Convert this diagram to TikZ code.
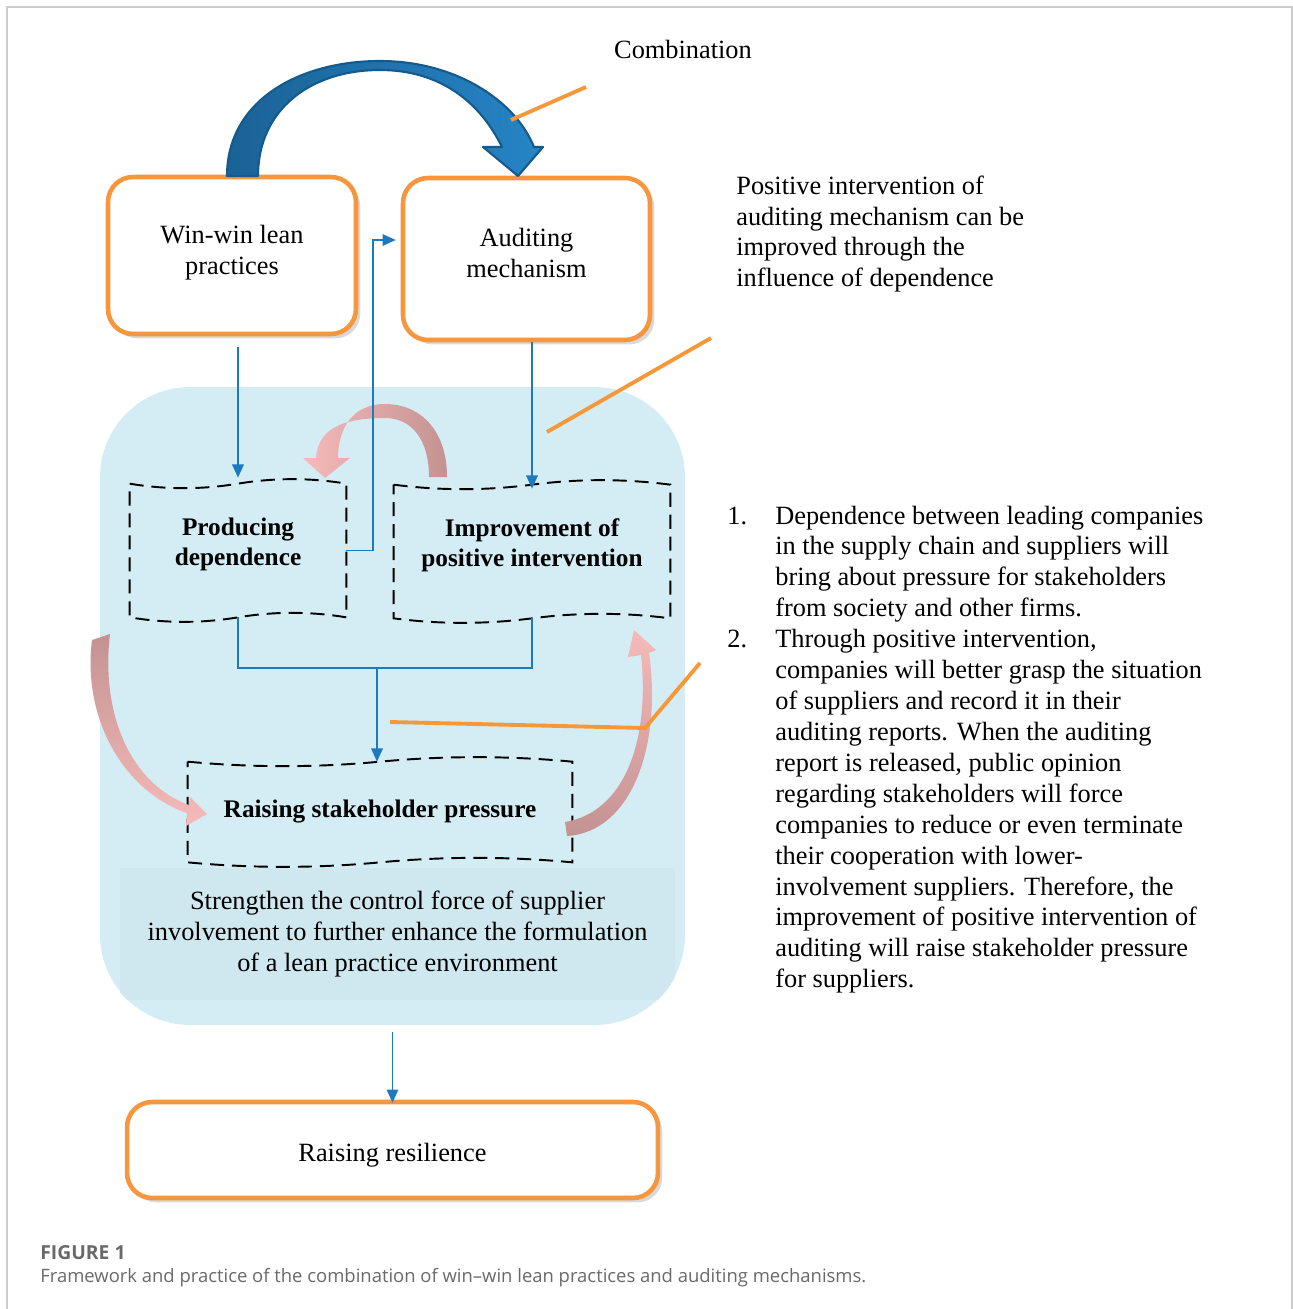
\documentclass[tikz,border=0pt]{standalone}
\usepackage{fontspec}
\setmainfont{Liberation Serif}
\newfontfamily\capfont{Open Sans}
\usepackage{tikz}
\usetikzlibrary{arrows.meta, positioning, calc, shadows}
\definecolor{boxorange}{RGB}{247,150,60}
\definecolor{calloutorange}{RGB}{247,152,56}
\definecolor{zoneblue}{RGB}{212,236,244}
\definecolor{envblue}{RGB}{207,232,239}
\definecolor{lineblue}{RGB}{28,122,190}
\definecolor{arcdark}{RGB}{26,98,150}
\definecolor{arclight}{RGB}{38,132,198}
\definecolor{arcedge}{RGB}{21,90,140}
\definecolor{rosedark}{RGB}{196,146,146}
\definecolor{roselight}{RGB}{246,186,186}
\definecolor{framegray}{RGB}{204,204,204}
\definecolor{capgray}{RGB}{105,105,105}
\newcommand{\bodyfont}{\fontsize{15}{17.6}\selectfont}
\newcommand{\tapefont}{\fontsize{14.4}{17}\selectfont\bfseries}
% strut below the last line, lifts the text in its box
\newcommand{\lift}[1]{\rule[-#1]{0pt}{0pt}}
\tikzset{
  orangebox/.style={rectangle, draw=boxorange, fill=white, line width=2.6pt,
    rounded corners=0.5cm, align=center, font=\bodyfont,
    drop shadow={shadow xshift=2.5pt, shadow yshift=-2.5pt, opacity=0.3}},
  tapebox/.style={rectangle, align=center, font=\tapefont, inner sep=0pt},
  tapeline/.style={draw=black, line width=1.1pt, dash pattern=on 8pt off 4.5pt},
  zone/.style={rectangle, fill=zoneblue, rounded corners=1.8cm, inner sep=0pt},
  plaintext/.style={font=\bodyfont, align=left, inner sep=0pt},
  bluearrow/.style={-{Triangle[width=6.5pt,length=7.5pt]}, draw=lineblue, line width=1.1pt},
  blueline/.style={draw=lineblue, line width=1.1pt},
  callout/.style={draw=calloutorange, line width=2.2pt}
}
% dashed wavy border round a node
\newcommand{\tapeedge}[1]{%
  \draw[tapeline]
    (#1.north west)
      .. controls ($(#1.north west)!0.1667!(#1.north east)+(0,6)$)
              and ($(#1.north west)!0.3333!(#1.north east)+(0,6)$) .. ($(#1.north west)!0.5!(#1.north east)$)
      .. controls ($(#1.north west)!0.6667!(#1.north east)+(0,-6)$)
              and ($(#1.north west)!0.8333!(#1.north east)+(0,-6)$) .. (#1.north east)
    -- (#1.south east)
      .. controls ($(#1.south west)!0.8333!(#1.south east)+(0,-6)$)
              and ($(#1.south west)!0.6667!(#1.south east)+(0,-6)$) .. ($(#1.south west)!0.5!(#1.south east)$)
      .. controls ($(#1.south west)!0.3333!(#1.south east)+(0,6)$)
              and ($(#1.south west)!0.1667!(#1.south east)+(0,6)$) .. (#1.south west)
    -- cycle;}

\begin{document}
\begin{tikzpicture}[x=0.02cm, y=-0.02cm]
  \useasboundingbox (0,0) rectangle (1293,1309);

  % Frame
  \draw[framegray, line width=1.2pt] (7,1309) -- (7,7) -- (1292,7) -- (1292,1309);

  % Light blue zone
  \node[zone, minimum width=11.7cm, minimum height=12.76cm] (zone) at (392.5,706) {};
  \begin{scope}
    \clip[rounded corners=1.8cm] (zone.south west) rectangle (zone.north east);
    \fill[envblue] (120,868) rectangle (675,1000);
  \end{scope}
  \node[plaintext, align=center] (env) at (397.5,934)
    {Strengthen the control force of supplier\\involvement to further enhance the formulation\\of a lean practice environment};

  % Top boxes
  \node[orangebox, minimum width=4.96cm, minimum height=3.14cm] (win) at (232,255.5) {Win-win lean\\practices\lift{6.7pt}};
  \node[orangebox, minimum width=4.94cm, minimum height=3.24cm] (audit) at (526.5,259) {Auditing\\mechanism\lift{6.8pt}};

  % Combination arrow
  \draw[arcedge, line width=1.2pt, left color=arcdark, right color=arclight, line join=round]
    (227,176) .. controls (227,100) and (300,61) .. (380,61)
    .. controls (455,61) and (515,100) .. (534,147)
    -- (543,147) -- (518,176) -- (483,147) -- (502,147)
    .. controls (480,102) and (440,70) .. (380,70)
    .. controls (310,70) and (258,110) .. (258,176) -- cycle;

  % Inner steps
  \node[tapebox, minimum width=4.32cm, minimum height=2.66cm] (prod) at (238,550.5) {Producing\\dependence\lift{10pt}};
  \node[tapebox, minimum width=5.52cm, minimum height=2.66cm] (impr) at (532,551.5) {Improvement of\\positive intervention\lift{10pt}};
  \node[tapebox, minimum width=7.68cm, minimum height=2cm] (press) at (380,812) {Raising stakeholder pressure};
  \tapeedge{prod}
  \tapeedge{impr}
  \tapeedge{press}

  % Pink feedback arrows
  \path[left color=roselight, right color=rosedark]
    (447,477) .. controls (447,430) and (420,404) .. (385,404)
    .. controls (353,404) and (338,428) .. (338,458)
    -- (350,458) -- (325,478) -- (303,458) -- (316,458)
    .. controls (318,425) and (350,418) .. (385,418)
    .. controls (412,418) and (429,440) .. (429,477) -- cycle;
  \path[top color=rosedark, bottom color=roselight]
    (92,640) .. controls (82,720) and (125,792) .. (187,813)
    -- (186,826) -- (207,814) -- (190,797) -- (189,805)
    .. controls (135,786) and (100,720) .. (110,634) -- cycle;
  \path[top color=roselight, bottom color=rosedark]
    (565,822) .. controls (625,812) and (650,740) .. (641,655)
    -- (628,657) -- (634,630) -- (656,650) -- (649,653)
    .. controls (662,745) and (632,832) .. (567,836) -- cycle;

  % Blue connectors
  \draw[bluearrow, shorten <=0.22cm, shorten >=0.12cm] (win.south -| prod.north) -- (prod.north);
  \draw[bluearrow] (audit.south -| impr.north) -- ([yshift=-0.08cm]impr.north);
  \draw[bluearrow, shorten >=0.1cm] (prod.east) -- ++(27,0) |- ([yshift=0.38cm]audit.west);
  \draw[blueline] (prod.south) -- ++(0,51) -| (impr.south);
  \coordinate (join) at (377,669);
  \draw[bluearrow] (join) -- (join |- press.north);

  % Result
  \node[orangebox, minimum width=10.62cm, minimum height=1.92cm] (res) at (392.5,1150) {\rule{0pt}{15.9pt}Raising resilience};
  \draw[bluearrow, shorten <=0.14cm] (zone.south -| res.north) -- ([yshift=-0.06cm]res.north);

  % Notes
  \node[plaintext] (combo) at (683,49) {Combination};
  \node[plaintext, anchor=west] (posnote) at (736,234)
    {Positive intervention of\\auditing mechanism can be\\improved through the\\influence of dependence};
  \node[plaintext, anchor=north west] (steps) at (727,502) {%
    \begin{tabular}{@{}p{0.96cm}@{}l@{}}
      1. & Dependence between leading companies\\
         & in the supply chain and suppliers will\\
         & bring about pressure for stakeholders\\
         & from society and other firms.\\
      2. & Through positive intervention,\\
         & companies will better grasp the situation\\
         & of suppliers and record it in their\\
         & auditing reports. When the auditing\\
         & report is released, public opinion\\
         & regarding stakeholders will force\\
         & companies to reduce or even terminate\\
         & their cooperation with lower-\\
         & involvement suppliers. Therefore, the\\
         & improvement of positive intervention of\\
         & auditing will raise stakeholder pressure\\
         & for suppliers.
    \end{tabular}};

  % Callout lines
  \coordinate (c1a) at (586,87);  \coordinate (c1b) at (511,120);
  \coordinate (c2a) at (711,338); \coordinate (c2b) at (547,432);
  \coordinate (c3a) at (700,663); \coordinate (c3b) at (645,728); \coordinate (c3c) at (390,722);
  \draw[callout] (c1a) -- (c1b);
  \draw[callout] (c2a) -- (c2b);
  \draw[callout, line join=miter] (c3a) -- (c3b) -- (c3c);

  % Caption
  \node[anchor=west, inner sep=0pt, text=capgray, font=\capfont\bfseries\fontsize{11}{13}\selectfont] (figno) at (40,1253) {FIGURE 1};
  \node[anchor=west, inner sep=0pt, text=capgray, font=\capfont\fontsize{10.5}{13}\selectfont] (figcap) at (40,1278)
    {Framework and practice of the combination of win–win lean practices and auditing mechanisms.};
\end{tikzpicture}
\end{document}
